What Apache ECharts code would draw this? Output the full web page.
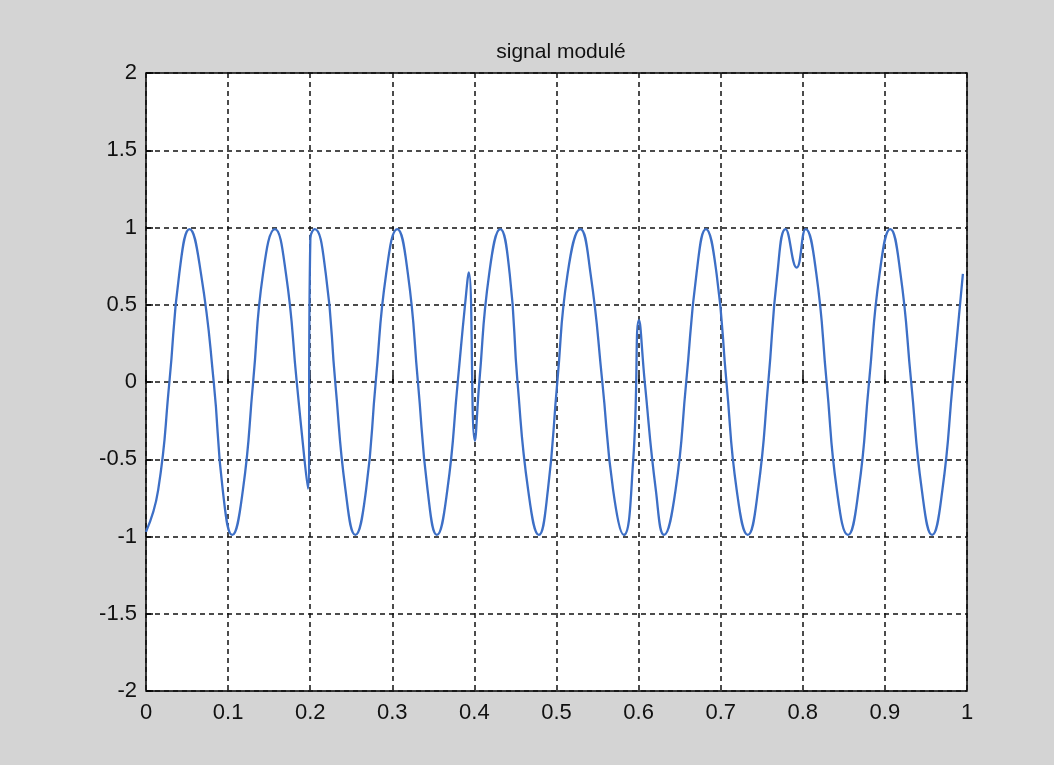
<!DOCTYPE html>
<html>
<head>
<meta charset="utf-8">
<title>signal modulé</title>
<script src="https://cdn.jsdelivr.net/npm/echarts@6/dist/echarts.min.js"></script>
<style>
  html, body { margin: 0; padding: 0; background: #d4d4d4; }
  #main { width: 1054px; height: 765px; }
</style>
</head>
<body>
<div id="main"></div>
<script>
// time (s) and amplitude
var times = [
  0, 0.0148, 0.0285, 0.0405, 0.053, 0.067, 0.0825, 0.0935, 0.105, 0.118,
  0.1305, 0.1425, 0.157, 0.1705, 0.1836, 0.193, 0.1972,
  0.2002, 0.2055, 0.219, 0.2305, 0.243, 0.255, 0.268, 0.2798, 0.2925,
  0.306, 0.319, 0.3312, 0.343, 0.3543, 0.367, 0.3797, 0.3886, 0.3932,
  0.4005, 0.406, 0.418, 0.4315, 0.443, 0.4525, 0.4655, 0.4785, 0.4895,
  0.501, 0.5135, 0.529, 0.5415, 0.5558, 0.569, 0.582, 0.5935,
  0.6005, 0.6075, 0.621, 0.631, 0.645, 0.658, 0.6705, 0.682, 0.695,
  0.707, 0.7195, 0.733, 0.7455, 0.758, 0.769, 0.779, 0.7925,
  0.8035, 0.8165, 0.829, 0.8415, 0.855, 0.868, 0.8807, 0.8935, 0.9065,
  0.919, 0.932, 0.945, 0.9575, 0.97, 0.9827, 0.995
];
var signal = [
  -0.97, -0.7, 0, 0.7, 0.99, 0.7, 0, -0.7, -0.99, -0.7,
  0, 0.7, 0.99, 0.7, 0, -0.5, -0.69,
  0.93, 0.99, 0.7, 0, -0.7, -0.99, -0.7, 0, 0.7,
  0.99, 0.7, 0, -0.7, -0.99, -0.7, 0, 0.5, 0.71,
  -0.38, 0, 0.7, 0.99, 0.7, 0, -0.7, -0.99, -0.7,
  0, 0.7, 0.99, 0.7, 0, -0.7, -0.99, -0.5,
  0.4, 0, -0.7, -0.99, -0.7, 0, 0.7, 0.99, 0.7,
  0, -0.7, -0.99, -0.7, 0, 0.7, 0.99, 0.74,
  0.99, 0.7, 0, -0.7, -0.99, -0.7, 0, 0.7, 0.99,
  0.7, 0, -0.7, -0.99, -0.7, 0, 0.7
];
var xTickLabels = ['0', '0.1', '0.2', '0.3', '0.4', '0.5', '0.6', '0.7', '0.8', '0.9', '1'];
var yTickLabels = ['-2', '-1.5', '-1', '-0.5', '0', '0.5', '1', '1.5', '2'];

var points = times.map(function (t, i) { return [t, signal[i]]; });

var font = '"Liberation Sans", Arial, sans-serif';
var gridLine = { show: true, lineStyle: { color: '#111', width: 1.5, type: [5, 4] } };

var chart = echarts.init(document.getElementById('main'), null, { renderer: 'canvas' });

chart.setOption({
  backgroundColor: '#d4d4d4',
  animation: false,
  title: {
    text: 'signal modulé',
    left: 556,
    top: 37,
    textAlign: 'center',
    textStyle: { fontFamily: font, fontSize: 21, fontWeight: 'normal', color: '#111' }
  },
  grid: {
    left: 146, right: 87, top: 73, bottom: 74,
    show: true,
    backgroundColor: '#fff',
    borderColor: '#000',
    borderWidth: 1.5,
    outerBoundsMode: 'none'
  },
  xAxis: {
    type: 'value',
    min: 0, max: 1, interval: 0.1,
    axisLine: { show: false },
    axisTick: { show: true, inside: true, length: 7, lineStyle: { color: '#000', width: 1.5 } },
    splitLine: gridLine,
    axisLabel: {
      margin: 11,
      fontFamily: font, fontSize: 22, color: '#111',
      formatter: function (v) { return xTickLabels[Math.round(v * 10)]; }
    }
  },
  yAxis: {
    type: 'value',
    min: -2, max: 2, interval: 0.5,
    axisLine: { show: false },
    axisTick: { show: true, inside: true, length: 7, lineStyle: { color: '#000', width: 1.5 } },
    splitLine: gridLine,
    axisLabel: {
      margin: 9,
      fontFamily: font, fontSize: 22, color: '#111',
      formatter: function (v) { return yTickLabels[Math.round((v + 2) * 2)]; }
    }
  },
  series: [{
    type: 'line',
    data: points,
    smooth: true,
    showSymbol: false,
    lineStyle: { color: '#3d6fc6', width: 2.3 }
  }]
});
</script>
</body>
</html>
